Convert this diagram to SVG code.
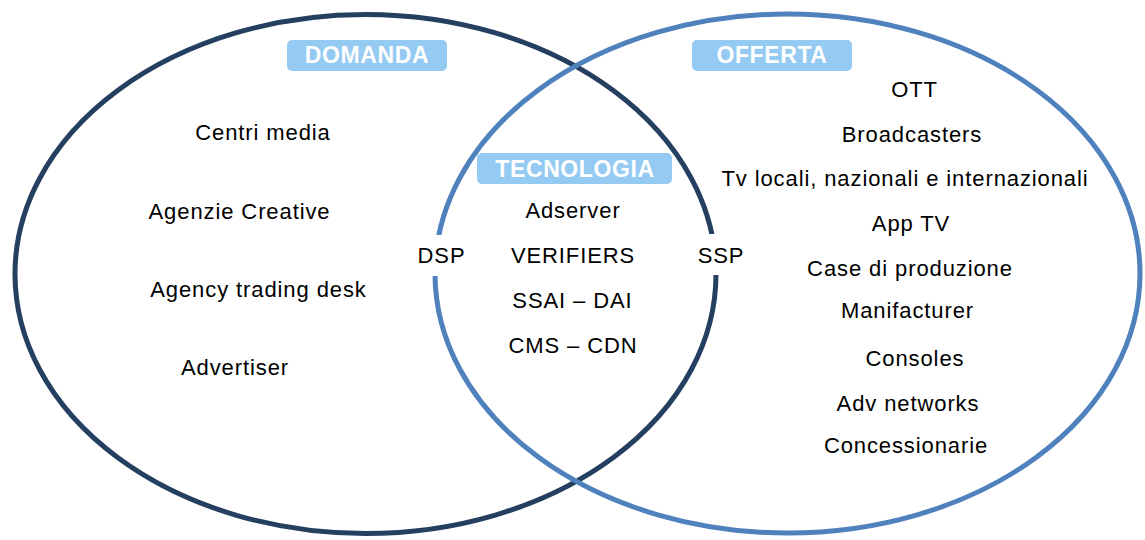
<svg xmlns="http://www.w3.org/2000/svg" width="1145" height="540" viewBox="0 0 1145 540">
<style>
.t{font-family:"Liberation Sans",Arial,sans-serif;font-size:22px;fill:#000;text-anchor:middle;letter-spacing:0.9px}
.h{font-family:"Liberation Sans",Arial,sans-serif;font-size:23px;font-weight:bold;fill:#fff;text-anchor:middle;letter-spacing:0.6px}
.box{fill:#95CAF2}
.cut{fill:#fff}
</style>
<rect width="1145" height="540" fill="#fff"/>
<g id="connectors">
<ellipse id="domanda-set" cx="365.5" cy="274" rx="350.5" ry="259.5" fill="none" stroke="#243F60" stroke-width="5"/>
<ellipse id="offerta-set" cx="787.5" cy="273.5" rx="352.5" ry="259.5" fill="none" stroke="#4F81BD" stroke-width="5"/>
</g>
<g id="domanda">
<rect class="box" x="287" y="40" width="160" height="31" rx="5"/>
<text class="h" x="367" y="63">DOMANDA</text>
<text class="t" x="263" y="140">Centri media</text>
<text class="t" x="239.5" y="219">Agenzie Creative</text>
<text class="t" x="258.5" y="297">Agency trading desk</text>
<text class="t" x="235" y="375">Advertiser</text>
</g>
<g id="offerta">
<rect class="box" x="692" y="40" width="160" height="31" rx="5"/>
<text class="h" x="772" y="63">OFFERTA</text>
<text class="t" x="914.5" y="97">OTT</text>
<text class="t" x="912" y="142">Broadcasters</text>
<text class="t" x="905" y="186">Tv locali, nazionali e internazionali</text>
<text class="t" x="911" y="231">App TV</text>
<text class="t" x="910" y="276">Case di produzione</text>
<text class="t" x="907.5" y="318">Manifacturer</text>
<text class="t" x="915" y="366">Consoles</text>
<text class="t" x="908" y="411">Adv networks</text>
<text class="t" x="906" y="453">Concessionarie</text>
</g>
<g id="tecnologia">
<rect class="box" x="477" y="153" width="195" height="31" rx="5"/>
<text class="h" x="575" y="177">TECNOLOGIA</text>
<text class="t" x="573" y="218">Adserver</text>
<text class="t" x="573" y="263">VERIFIERS</text>
<text class="t" x="572.5" y="308">SSAI – DAI</text>
<text class="t" x="573" y="353">CMS – CDN</text>
</g>
<g id="dsp">
<rect class="cut" x="413" y="235" width="57" height="41"/>
<text class="t" x="441.5" y="263">DSP</text>
</g>
<g id="ssp">
<rect class="cut" x="693" y="234" width="56" height="41"/>
<text class="t" x="721" y="263">SSP</text>
</g>
</svg>
